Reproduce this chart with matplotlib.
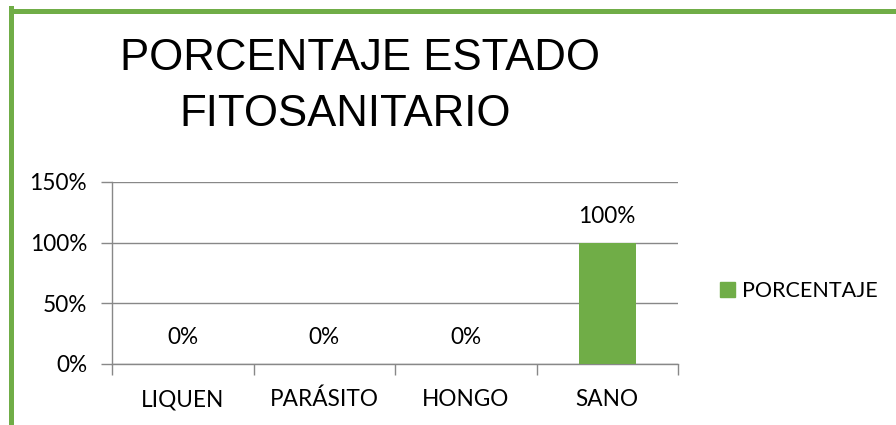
import numpy as np
import matplotlib
matplotlib.use('Agg')
import matplotlib.pyplot as plt
from matplotlib.lines import Line2D
from matplotlib.patches import Patch

# data
categories = ['LIQUEN', 'PARÁSITO', 'HONGO', 'SANO']
porcentaje = [0, 0, 0, 100]
y_ticks = [0, 50, 100, 150]
y_tick_labels = ['0%', '50%', '100%', '150%']
series_name = 'PORCENTAJE'
title_lines = ['PORCENTAJE ESTADO', 'FITOSANITARIO']

green = '#70AD47'
grid_col = '#888888'
W, H = 896, 425
fs = 16.3

fig = plt.figure(figsize=(W / 100, H / 100), dpi=100)
ax = fig.add_axes([112 / W, 1 - 364 / H, (678 - 112) / W, (364 - 182) / H])

x = np.arange(len(categories))
ax.bar(x, porcentaje, width=0.4, color=green, zorder=3)

ax.set_xlim(-0.5, len(categories) - 0.5)
ax.set_ylim(0, 150)
ax.set_yticks(y_ticks)
ax.set_yticklabels(y_tick_labels, fontsize=fs, family='Lato')
ax.set_xticks(x)
ax.set_xticklabels(categories, fontsize=fs, family='Lato')
ax.set_xticks(np.arange(len(categories) + 1) - 0.5, minor=True)
ax.tick_params(axis='x', which='major', length=0, pad=18)
ax.tick_params(axis='x', which='minor', length=8, color=grid_col, width=1)
ax.tick_params(axis='y', length=8, color=grid_col, width=1, pad=10)
ax.grid(axis='y', color=grid_col, linewidth=1, zorder=0)
for s in ['top', 'right']:
    ax.spines[s].set_visible(False)
for s in ['left', 'bottom']:
    ax.spines[s].set_color(grid_col)
    ax.spines[s].set_linewidth(1)

for xi, v in zip(x, porcentaje):
    ax.annotate('%d%%' % v, (xi, v), xytext=(0, 19), textcoords='offset points',
                ha='center', va='center', fontsize=fs, family='Lato')

# title
fig.text(360 / W, 1 - 58 / H, title_lines[0], ha='center', va='center',
         fontsize=31.5, family='Liberation Sans')
fig.text(345 / W, 1 - 115 / H, title_lines[1], ha='center', va='center',
         fontsize=31.5, family='Liberation Sans')

# legend
fig.legend(handles=[Patch(color=green, label=series_name)], loc='center left',
           bbox_to_anchor=(701 / W, 1 - 291 / H), frameon=False,
           prop={'family': 'Lato', 'size': 15.5}, handlelength=0.7, handleheight=0.7,
           handletextpad=0.3)

# green frame
fig.add_artist(Line2D([10.5 / W, 10.5 / W], [0, 1 - 8 / H], color=green, linewidth=3.6,
                      transform=fig.transFigure, solid_capstyle='projecting'))
fig.add_artist(Line2D([10.5 / W, 1], [1 - 10.8 / H, 1 - 10.8 / H], color=green,
                      linewidth=3.6, transform=fig.transFigure))

fig.savefig('out.png', dpi=100)
